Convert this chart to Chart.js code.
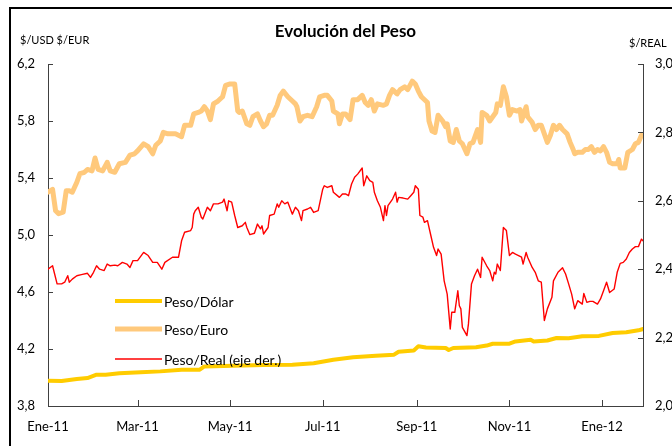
<!DOCTYPE html>
<html>
<head>
<meta charset="utf-8">
<script src="https://cdn.jsdelivr.net/npm/chart.js@4"></script>
<style>
  html, body { margin: 0; padding: 0; background: #fff; }
  #wrap { width: 672px; height: 446px; }
</style>
</head>
<body>
<div id="wrap"><canvas id="grafico" width="672" height="446"></canvas></div>
<script>
// días desde el 1-ene-2011
const marcasX = [0, 59, 120, 181, 243, 304, 365];
const etiquetasX = ['Ene-11', 'Mar-11', 'May-11', 'Jul-11', 'Sep-11', 'Nov-11', 'Ene-12'];
const marcasIzq = [3.8, 4.2, 4.6, 5.0, 5.4, 5.8, 6.2];
const marcasDer = [2.0, 2.2, 2.4, 2.6, 2.8, 3.0];

const diasDolar = [0, 9, 19, 26, 32, 38, 47, 61, 74, 88, 100, 103, 122, 142, 161, 175, 188, 201, 216, 228, 231, 241, 244, 249, 262, 264, 267, 282, 289, 293, 304, 308, 318, 320, 329, 335, 343, 352, 363, 372, 381, 389, 392];
const pesoDolar = [3.978, 3.975, 3.99, 3.996, 4.02, 4.02, 4.03, 4.036, 4.043, 4.055, 4.055, 4.078, 4.083, 4.087, 4.09, 4.10, 4.125, 4.142, 4.153, 4.16, 4.181, 4.19, 4.219, 4.21, 4.207, 4.193, 4.207, 4.212, 4.224, 4.237, 4.237, 4.253, 4.265, 4.253, 4.26, 4.277, 4.275, 4.289, 4.292, 4.312, 4.317, 4.331, 4.34];

const diasEuro = [0, 3, 5, 7, 10, 12, 14, 16, 19, 21, 24, 26, 29, 31, 33, 36, 39, 41, 44, 47, 51, 54, 57, 59, 63, 66, 69, 71, 74, 76, 79, 84, 88, 90, 94, 96, 99, 101, 103, 105, 107, 109, 112, 115, 117, 120, 123, 125, 126, 128, 131, 133, 135, 138, 140, 142, 144, 146, 148, 151, 153, 155, 158, 161, 163, 164, 166, 168, 171, 174, 177, 179, 182, 184, 187, 188, 191, 192, 194, 196, 199, 201, 204, 207, 209, 211, 213, 215, 217, 221, 223, 225, 227, 230, 232, 235, 237, 240, 242, 244, 246, 250, 251, 253, 255, 257, 260, 262, 263, 265, 267, 269, 271, 273, 276, 278, 280, 283, 285, 286, 289, 291, 295, 296, 298, 300, 302, 304, 306, 309, 311, 312, 315, 316, 319, 321, 323, 325, 327, 329, 331, 333, 335, 337, 339, 342, 344, 346, 347, 349, 352, 354, 356, 358, 360, 362, 364, 366, 368, 370, 372, 375, 376, 377, 380, 382, 385, 387, 389, 391];
const pesoEuro = [5.30, 5.32, 5.17, 5.15, 5.16, 5.31, 5.31, 5.30, 5.37, 5.43, 5.44, 5.46, 5.45, 5.54, 5.46, 5.45, 5.51, 5.45, 5.44, 5.50, 5.51, 5.56, 5.57, 5.59, 5.64, 5.62, 5.57, 5.63, 5.66, 5.72, 5.71, 5.71, 5.69, 5.77, 5.77, 5.85, 5.86, 5.87, 5.90, 5.87, 5.81, 5.92, 5.94, 5.97, 6.05, 6.06, 6.06, 5.87, 5.86, 5.87, 5.78, 5.77, 5.83, 5.85, 5.80, 5.76, 5.78, 5.84, 5.84, 5.91, 5.98, 6.01, 5.97, 5.94, 5.92, 5.90, 5.80, 5.83, 5.84, 5.83, 5.90, 5.97, 5.98, 5.98, 5.94, 5.87, 5.85, 5.78, 5.85, 5.85, 5.81, 5.95, 5.95, 5.98, 5.93, 5.91, 5.95, 5.87, 5.92, 5.91, 5.92, 5.98, 6.02, 5.99, 6.02, 6.04, 6.02, 6.08, 6.06, 6.01, 5.97, 5.93, 5.80, 5.73, 5.72, 5.84, 5.80, 5.76, 5.78, 5.66, 5.65, 5.74, 5.66, 5.64, 5.57, 5.64, 5.65, 5.74, 5.65, 5.86, 5.84, 5.80, 5.86, 5.92, 5.91, 6.04, 5.97, 5.84, 5.88, 5.87, 5.88, 5.80, 5.90, 5.83, 5.79, 5.74, 5.77, 5.77, 5.71, 5.65, 5.70, 5.77, 5.74, 5.77, 5.74, 5.71, 5.65, 5.60, 5.57, 5.58, 5.58, 5.60, 5.60, 5.62, 5.58, 5.60, 5.59, 5.62, 5.58, 5.51, 5.50, 5.50, 5.53, 5.47, 5.47, 5.58, 5.60, 5.64, 5.65, 5.70];

const diasReal = [0, 3, 6, 9, 11, 13, 14, 16, 19, 22, 26, 28, 30, 32, 34, 37, 39, 41, 44, 46, 49, 52, 54, 56, 59, 63, 66, 69, 72, 75, 77, 82, 86, 88, 90, 94, 95, 96, 97, 99, 101, 102, 105, 107, 109, 112, 115, 116, 118, 119, 121, 123, 125, 128, 130, 131, 133, 136, 138, 140, 141, 142, 145, 146, 149, 151, 152, 154, 156, 158, 161, 163, 165, 167, 168, 171, 173, 175, 178, 181, 182, 184, 187, 188, 192, 194, 196, 198, 200, 202, 204, 207, 208, 210, 212, 214, 215, 217, 219, 221, 222, 223, 224, 227, 229, 230, 231, 234, 237, 239, 241, 242, 244, 245, 247, 248, 250, 252, 254, 256, 257, 259, 261, 263, 265, 266, 268, 270, 271, 272, 273, 276, 277, 279, 281, 283, 285, 286, 289, 291, 293, 294, 295, 296, 298, 300, 302, 304, 306, 308, 310, 312, 313, 315, 316, 319, 321, 323, 325, 327, 329, 332, 333, 336, 339, 341, 343, 345, 347, 349, 352, 353, 355, 357, 359, 362, 364, 366, 368, 370, 373, 375, 377, 379, 381, 383, 385, 387, 389, 391, 392];
const pesoReal = [2.400, 2.410, 2.357, 2.357, 2.362, 2.381, 2.362, 2.371, 2.381, 2.384, 2.388, 2.376, 2.391, 2.410, 2.400, 2.396, 2.415, 2.410, 2.412, 2.410, 2.420, 2.415, 2.405, 2.425, 2.425, 2.449, 2.440, 2.420, 2.420, 2.400, 2.420, 2.435, 2.435, 2.483, 2.508, 2.513, 2.522, 2.561, 2.571, 2.581, 2.552, 2.547, 2.581, 2.571, 2.591, 2.591, 2.596, 2.605, 2.571, 2.600, 2.596, 2.557, 2.522, 2.527, 2.537, 2.522, 2.501, 2.505, 2.532, 2.518, 2.527, 2.503, 2.522, 2.557, 2.561, 2.591, 2.581, 2.600, 2.591, 2.596, 2.561, 2.581, 2.571, 2.542, 2.571, 2.576, 2.581, 2.566, 2.571, 2.634, 2.644, 2.639, 2.644, 2.625, 2.610, 2.620, 2.620, 2.615, 2.649, 2.669, 2.678, 2.696, 2.644, 2.673, 2.659, 2.654, 2.625, 2.600, 2.581, 2.542, 2.586, 2.557, 2.586, 2.605, 2.625, 2.596, 2.610, 2.608, 2.605, 2.615, 2.625, 2.644, 2.634, 2.557, 2.552, 2.537, 2.542, 2.503, 2.464, 2.440, 2.459, 2.444, 2.366, 2.327, 2.225, 2.274, 2.274, 2.337, 2.293, 2.284, 2.230, 2.206, 2.240, 2.357, 2.381, 2.400, 2.376, 2.435, 2.410, 2.396, 2.366, 2.391, 2.386, 2.415, 2.396, 2.522, 2.513, 2.440, 2.449, 2.444, 2.440, 2.435, 2.415, 2.449, 2.435, 2.405, 2.391, 2.366, 2.362, 2.250, 2.284, 2.318, 2.366, 2.391, 2.404, 2.386, 2.357, 2.327, 2.284, 2.308, 2.298, 2.329, 2.303, 2.306, 2.306, 2.298, 2.313, 2.337, 2.362, 2.332, 2.342, 2.391, 2.417, 2.420, 2.430, 2.449, 2.459, 2.466, 2.466, 2.488, 2.483];

const fuente = 'Lato, "Open Sans", sans-serif';
const coma = v => v.toFixed(1).replace('.', ',');
const puntos = (xs, ys) => xs.map((d, i) => ({ x: d, y: ys[i] }));

// marcas hacia adentro, títulos y leyenda
const decoracion = {
  id: 'decoracion',
  beforeDraw(chart) {
    const ctx = chart.ctx;
    ctx.save();
    ctx.fillStyle = '#fff';
    ctx.fillRect(0, 0, chart.width, chart.height);
    ctx.strokeStyle = '#000';
    ctx.lineWidth = 2;
    ctx.strokeRect(10, 8, 800, 600);
    ctx.restore();
  },
  afterDraw(chart) {
    const ctx = chart.ctx;
    const a = chart.chartArea;
    const { x, y, y2 } = chart.scales;
    ctx.save();
    ctx.strokeStyle = '#404040';
    ctx.lineWidth = 1;
    ctx.beginPath();
    x.ticks.forEach(t => {
      const px = Math.round(x.getPixelForValue(t.value)) + 0.5;
      ctx.moveTo(px, a.bottom); ctx.lineTo(px, a.bottom - 6);
    });
    y.ticks.forEach(t => {
      const py = Math.round(y.getPixelForValue(t.value)) + 0.5;
      ctx.moveTo(a.left, py); ctx.lineTo(a.left + 5, py);
    });
    y2.ticks.forEach(t => {
      const py = Math.round(y2.getPixelForValue(t.value)) + 0.5;
      ctx.moveTo(a.right, py); ctx.lineTo(a.right - 5, py);
    });
    ctx.stroke();

    ctx.fillStyle = '#000';
    ctx.textBaseline = 'middle';
    ctx.font = 'bold 17px ' + fuente;
    ctx.textAlign = 'center';
    ctx.fillText('Evolución del Peso', (a.left + a.right) / 2, 32);
    ctx.font = '11px ' + fuente;
    ctx.textAlign = 'left';
    ctx.fillText('$/USD $/EUR', 20, 40);
    ctx.fillText('$/REAL', 629, 43);

    // leyenda
    const filas = [301, 329, 359];
    ctx.font = '14px ' + fuente;
    chart.data.datasets.forEach((ds, i) => {
      ctx.strokeStyle = ds.borderColor;
      ctx.lineWidth = ds.borderWidth;
      ctx.beginPath();
      ctx.moveTo(115, filas[i]);
      ctx.lineTo(162, filas[i]);
      ctx.stroke();
      ctx.fillStyle = '#000';
      ctx.fillText(ds.label, 164, filas[i] + 1);
    });
    ctx.restore();
  }
};

new Chart(document.getElementById('grafico'), {
  type: 'line',
  data: {
    datasets: [
      { label: 'Peso/Dólar', data: puntos(diasDolar, pesoDolar), yAxisID: 'y',
        borderColor: '#FFCC00', borderWidth: 4 },
      { label: 'Peso/Euro', data: puntos(diasEuro, pesoEuro), yAxisID: 'y',
        borderColor: '#FFC97C', borderWidth: 5 },
      { label: 'Peso/Real (eje der.)', data: puntos(diasReal, pesoReal), yAxisID: 'y2',
        borderColor: '#FF0000', borderWidth: 1.4 }
    ]
  },
  options: {
    responsive: false,
    animation: false,
    elements: {
      point: { radius: 0 },
      line: { tension: 0, borderJoinStyle: 'round', borderCapStyle: 'round' }
    },
    layout: { padding: { top: 64, left: 0, right: 0, bottom: 0 } },
    plugins: { legend: { display: false }, title: { display: false }, tooltip: { enabled: false } },
    scales: {
      x: {
        type: 'linear', min: 0, max: 392,
        afterBuildTicks: s => { s.ticks = marcasX.map(v => ({ value: v })); },
        afterFit: s => { s.height = 40; },
        grid: { drawOnChartArea: false, drawTicks: false },
        border: { display: true, color: '#404040', width: 1 },
        ticks: {
          callback: (v, i) => etiquetasX[i],
          color: '#000', font: { family: fuente, size: 13 }, padding: 13,
          maxRotation: 0, autoSkip: false
        }
      },
      y: {
        position: 'left', min: 3.8, max: 6.2,
        afterBuildTicks: s => { s.ticks = marcasIzq.map(v => ({ value: v })); },
        afterFit: s => { s.width = 48; },
        grid: { drawOnChartArea: false, drawTicks: false },
        border: { display: true, color: '#404040', width: 1 },
        ticks: { callback: v => coma(v), color: '#000', font: { family: fuente, size: 13 }, padding: 13 }
      },
      y2: {
        position: 'right', min: 2.0, max: 3.0,
        afterBuildTicks: s => { s.ticks = marcasDer.map(v => ({ value: v })); },
        afterFit: s => { s.width = 29; },
        grid: { drawOnChartArea: false, drawTicks: false },
        border: { display: true, color: '#404040', width: 1 },
        ticks: { callback: v => coma(v), color: '#000', font: { family: fuente, size: 13 }, padding: 12 }
      }
    }
  },
  plugins: [decoracion]
});
</script>
</body>
</html>
